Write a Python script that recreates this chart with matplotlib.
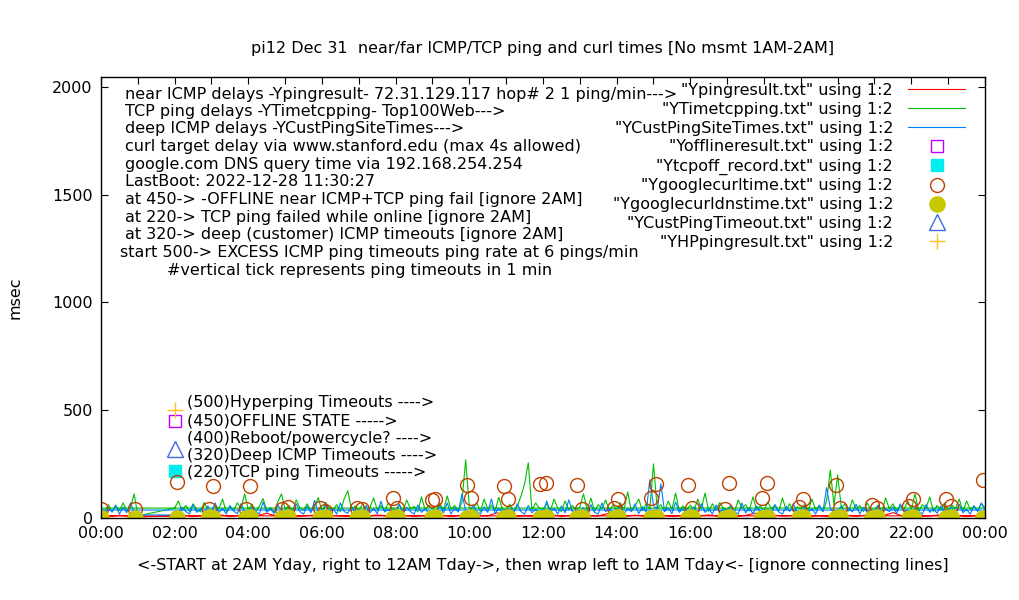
import numpy as np
import matplotlib
matplotlib.use("Agg")
import matplotlib.pyplot as plt

# ---- data (hours of day, msec) ----
# near ICMP, 4 samples per hour, day part 02:00 -> 24:00, then night 00:00 -> 01:00
red_day = [9, 12, 8, 11,  10, 14, 8, 12,  9, 11, 22, 10,  12, 8, 10, 13,
           9, 12, 10, 8,  11, 9, 14, 10,  8, 12, 9, 11,  10, 13, 8, 12,
           9, 11, 10, 24,  12, 8, 11, 9,  10, 14, 9, 12,  8, 11, 10, 20,
           12, 9, 13, 10,  9, 12, 8, 11,  11, 10, 14, 9,  10, 8, 12, 22,
           9, 13, 10, 11,  12, 9, 11, 8,  10, 12, 9, 13,  8, 11, 25, 10,
           12, 9, 10, 14,  10, 12, 8, 11,  10]
red_night = [10, 8, 12, 9, 5]

# TCP ping, 10 samples per hour
green_day = [
    46, 79, 35, 58, 30, 66, 40, 28, 72, 38,     # 02
    34, 60, 42, 88, 30, 52, 36, 70, 44, 112,    # 03
    38, 64, 30, 56, 90, 34, 48, 28, 75, 112,    # 04
    40, 58, 32, 84, 46, 36, 66, 30, 52, 95,     # 05
    30, 72, 44, 36, 62, 28, 88, 126, 40, 55,    # 06
    34, 66, 30, 48, 93, 38, 58, 32, 70, 44,     # 07
    36, 62, 30, 84, 42, 54, 28, 98, 38, 60,     # 08
    44, 30, 68, 36, 102, 40, 58, 32, 74, 270,   # 09
    50, 36, 72, 30, 88, 42, 60, 34, 96, 40,     # 10
    38, 64, 30, 55, 100, 158, 256, 36, 70, 44,  # 11
    40, 66, 32, 88, 46, 30, 79, 38, 58, 34,     # 12
    52, 112, 36, 93, 30, 62, 44, 84, 32, 60,    # 13
    36, 70, 40, 121, 30, 58, 88, 34, 66, 42,    # 14
    251, 44, 62, 30, 79, 40, 116, 34, 56, 38,   # 15
    60, 32, 88, 42, 116, 30, 66, 36, 72, 44,    # 16
    38, 58, 30, 84, 46, 62, 34, 98, 40, 56,     # 17
    32, 74, 44, 60, 30, 93, 38, 66, 30, 52,     # 18
    44, 62, 34, 88, 40, 56, 30, 79, 223, 60,    # 19
    200, 46, 66, 32, 84, 40, 58, 30, 70, 38,    # 20
    36, 60, 30, 93, 44, 66, 34, 56, 40, 79,     # 21
    40, 112, 32, 62, 46, 98, 30, 58, 36, 70,    # 22
    34, 60, 44, 88, 30, 79, 40, 56, 32, 66,     # 23
    46]
green_night = [46, 30, 62, 28, 55, 35, 70, 32, 48, 112, 10]

# deep ICMP, 10 samples per hour
blue_day = [
    14, 22, 50, 30, 18, 62, 26, 44, 20, 56,     # 02
    28, 70, 24, 46, 18, 58, 32, 20, 66, 30,     # 03
    22, 52, 30, 18, 74, 26, 44, 20, 60, 34,     # 04
    26, 48, 20, 66, 30, 18, 56, 24, 82, 28,     # 05
    20, 60, 28, 44, 18, 70, 30, 22, 54, 26,     # 06
    32, 18, 58, 24, 46, 20, 78, 28, 40, 22,     # 07
    24, 64, 20, 50, 30, 18, 60, 26, 44, 20,     # 08
    30, 20, 56, 24, 70, 18, 46, 28, 112, 34,    # 09
    22, 60, 30, 18, 52, 26, 88, 20, 46, 28,     # 10
    26, 44, 20, 66, 30, 18, 58, 24, 40, 22,     # 11
    20, 79, 28, 46, 18, 56, 24, 84, 30, 20,     # 12
    28, 48, 20, 62, 26, 18, 70, 30, 44, 22,     # 13
    24, 56, 18, 46, 30, 66, 20, 52, 28, 177,    # 14
    60, 36, 158, 30, 48, 20, 74, 26, 44, 18,    # 15
    30, 52, 20, 66, 26, 44, 18, 60, 28, 40,     # 16
    22, 58, 30, 18, 70, 24, 46, 20, 56, 30,     # 17
    26, 44, 20, 62, 28, 18, 54, 30, 66, 22,     # 18
    20, 50, 26, 44, 18, 60, 30, 140, 46, 24,    # 19
    30, 56, 20, 46, 28, 64, 18, 50, 26, 40,     # 20
    24, 60, 18, 44, 30, 52, 20, 66, 28, 38,     # 21
    20, 48, 30, 18, 62, 26, 44, 22, 56, 30,     # 22
    28, 52, 20, 64, 24, 40, 18, 56, 30, 70,     # 23
    37]
blue_night = [37, 20, 45, 28, 60, 18, 50, 25, 70, 30, 14]

# curl target delay (hour, msec)
curl_t = [0.00, 0.92, 2.06, 2.93, 3.04, 3.94, 4.05, 4.91, 5.08, 5.95, 6.08,
          6.95, 7.09, 7.93, 8.04, 8.99, 9.07, 9.94, 10.05, 10.94, 11.05,
          11.92, 12.08, 12.92, 13.06, 13.93, 14.04, 14.93, 15.07, 15.94,
          16.05, 16.94, 17.05, 17.95, 18.08, 18.95, 19.06, 19.96, 20.07,
          20.93, 21.07, 21.94, 22.05, 22.94, 23.08, 23.95]
curl_v = [42, 42, 167, 42, 149, 42, 149, 42, 51, 46, 33,
          46, 42, 93, 46, 84, 88, 153, 93, 149, 88,
          158, 163, 153, 42, 46, 88, 93, 158, 153,
          46, 42, 163, 93, 163, 51, 88, 153, 46,
          60, 46, 56, 88, 88, 56, 177]
# google.com DNS query time, same moments
dns_v = [2, 2, 2, 4, 2, 2, 4, 2, 6, 2, 4,
         2, 4, 2, 4, 2, 4, 2, 4, 2, 4,
         2, 4, 2, 4, 2, 4, 2, 6, 2,
         4, 2, 4, 2, 4, 2, 4, 2, 6,
         2, 4, 2, 4, 2, 6, 2]

# timeout markers (only the ignored 2AM ones)
offline_t, offline_v = [2.0], [450]
tcpoff_t, tcpoff_v = [2.0], [220]
custto_t, custto_v = [2.0], [320]
hpping_t, hpping_v = [2.0], [500]


def file_order(day, night, per_hour):
    # file starts 2AM yesterday, wraps to 00:00 today, then back to start
    td = 2 + np.arange(len(day)) / per_hour
    tn = np.arange(len(night)) / per_hour
    t = np.concatenate([td, tn, td[:1]])
    v = np.concatenate([day, night, day[:1]])
    return t, v


plt.rcParams["font.family"] = ["DejaVu Sans"]
fig = plt.figure(figsize=(10.2, 6.0), dpi=100)
ax = fig.add_axes([101 / 1020, 1 - 518 / 600, 884 / 1020, 441 / 600])

tr, vr = file_order(red_day, red_night, 4)
tg, vg = file_order(green_day, green_night, 10)
tb, vb = file_order(blue_day, blue_night, 10)

ax.plot(tr, vr, color="#ff0000", lw=0.8, label='"Ypingresult.txt" using 1:2')
ax.plot(tg, vg, color="#00c000", lw=0.8, label='"YTimetcpping.txt" using 1:2')
ax.plot(tb, vb, color="#0080ff", lw=0.8, label='"YCustPingSiteTimes.txt" using 1:2')
ax.plot(offline_t, offline_v, ls="none", marker="s", ms=9, mfc="none", mec="#c000ff",
        mew=1.0, label='"Yofflineresult.txt" using 1:2')
ax.plot(tcpoff_t, tcpoff_v, ls="none", marker="s", ms=9, color="#00eeee",
        label='"Ytcpoff_record.txt" using 1:2')
ax.plot(curl_t, curl_v, ls="none", marker="o", ms=10, mfc="none", mec="#c04000",
        mew=1.0, label='"Ygooglecurltime.txt" using 1:2')
ax.plot(curl_t, dns_v, ls="none", marker="o", ms=11, color="#c8c800",
        label='"Ygooglecurldnstime.txt" using 1:2')
ax.plot(custto_t, custto_v, ls="none", marker="^", ms=11, mfc="none", mec="#4169e1",
        mew=1.0, label='"YCustPingTimeout.txt" using 1:2')
ax.plot(hpping_t, hpping_v, ls="none", marker="+", ms=11, color="#ffc020",
        mew=1.0, label='"YHPpingresult.txt" using 1:2')

ax.set_xlim(0, 24)
ax.set_ylim(0, 2046)
ax.set_xticks(range(0, 25, 2))
ax.set_xticklabels(["%02d:00" % (h % 24) for h in range(0, 25, 2)])
ax.set_xticks(range(1, 24, 2), minor=True)
ax.set_yticks([0, 500, 1000, 1500, 2000])
ax.tick_params(which="both", direction="in", top=True, right=True,
               length=5, width=0.8, labelsize=11.5, pad=6)
for s in ax.spines.values():
    s.set_linewidth(1.0)

ax.set_ylabel("msec", fontsize=11.5, labelpad=21)
ax.set_xlabel("<-START at 2AM Yday, right to 12AM Tday->, then wrap left to 1AM Tday<- [ignore connecting lines]",
              fontsize=11.5, labelpad=12)
ax.set_title("pi12 Dec 31  near/far ICMP/TCP ping and curl times [No msmt 1AM-2AM]",
             fontsize=11.5, pad=17)

ax.legend(loc="upper right", bbox_to_anchor=(1 - 20 / 884, 1 - 6 / 441),
          frameon=False, markerfirst=False, borderaxespad=0, borderpad=0,
          handlelength=3.56, handletextpad=0.94, labelspacing=0.24,
          fontsize=11.5)

notes = [
    (125, 94, "near ICMP delays -Ypingresult- 72.31.129.117 hop# 2 1 ping/min--->"),
    (125, 111.5, "TCP ping delays -YTimetcpping- Top100Web--->"),
    (125, 129, "deep ICMP delays -YCustPingSiteTimes--->"),
    (125, 147, "curl target delay via www.stanford.edu (max 4s allowed)"),
    (125, 164.5, "google.com DNS query time via 192.168.254.254"),
    (125, 182, "LastBoot: 2022-12-28 11:30:27"),
    (125, 200, "at 450-> -OFFLINE near ICMP+TCP ping fail [ignore 2AM]"),
    (125, 217.5, "at 220-> TCP ping failed while online [ignore 2AM]"),
    (125, 235, "at 320-> deep (customer) ICMP timeouts [ignore 2AM]"),
    (120, 252.5, "start 500-> EXCESS ICMP ping timeouts ping rate at 6 pings/min"),
    (167, 270, "#vertical tick represents ping timeouts in 1 min"),
    (187, 402.5, "(500)Hyperping Timeouts ---->"),
    (187, 420.5, "(450)OFFLINE STATE ----->"),
    (187, 438, "(400)Reboot/powercycle? ---->"),
    (187, 455.5, "(320)Deep ICMP Timeouts ---->"),
    (187, 473, "(220)TCP ping Timeouts ----->"),
]
for x, y, s in notes:
    fig.text(x / 1020, 1 - y / 600, s, ha="left", va="center", fontsize=11.5)

fig.savefig("out.png", dpi=100)
